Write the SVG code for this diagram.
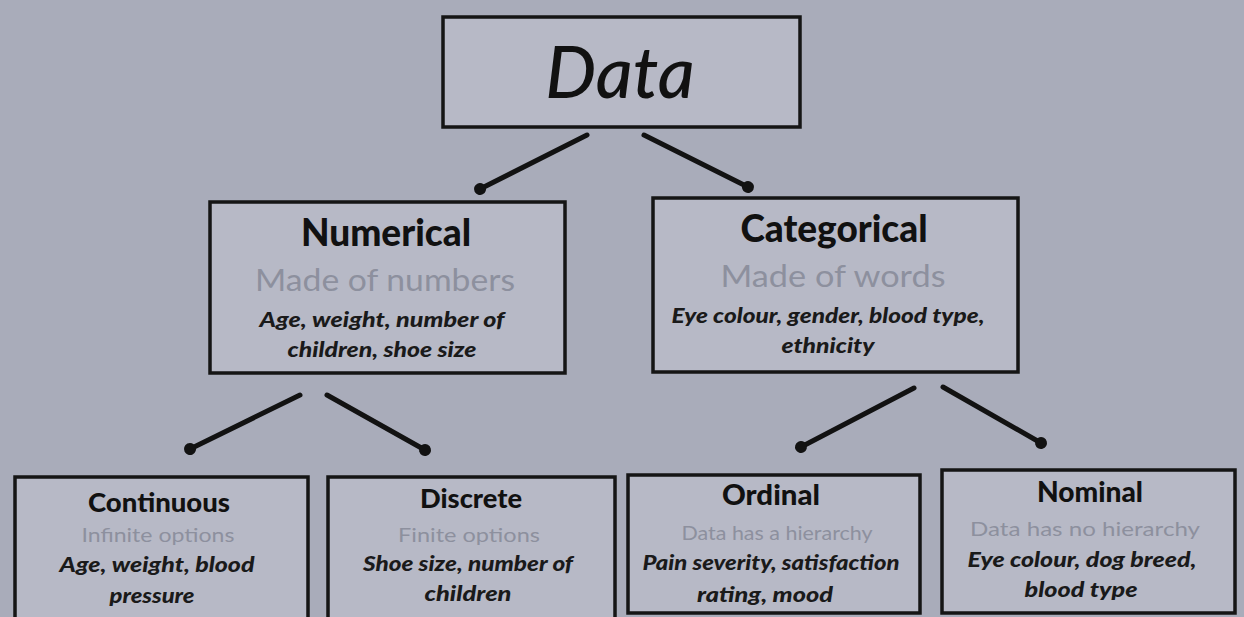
<svg xmlns="http://www.w3.org/2000/svg" width="1244" height="617" viewBox="0 0 1244 617">
<style>
.bg{fill:#a9acba}
.box{fill:#b7b9c6;stroke:#151515;stroke-width:3.5}
.title{font-family:Lato,"Noto Sans",sans-serif;font-weight:900;fill:#111;text-anchor:middle}
.sub{font-family:Lato,"Noto Sans",sans-serif;fill:#8d909e;text-anchor:middle}
.ex{font-family:Lato,"Noto Sans",sans-serif;font-weight:900;font-style:italic;fill:#1a1a1a;text-anchor:middle}
.conn{stroke:#121212;stroke-width:5;stroke-linecap:round;fill:none}
</style>
<defs>
<marker id="dot" markerWidth="4" markerHeight="4" refX="2" refY="2" markerUnits="strokeWidth" orient="auto">
<circle cx="2" cy="2" r="1.2" fill="#121212"/>
</marker>
</defs>
<rect class="bg" x="0" y="0" width="1244" height="617"/>

<g id="connectors">
<line class="conn" x1="587" y1="135" x2="480" y2="189" marker-end="url(#dot)"/>
<line class="conn" x1="644" y1="135" x2="748" y2="187" marker-end="url(#dot)"/>
<line class="conn" x1="300" y1="395" x2="190" y2="449" marker-end="url(#dot)"/>
<line class="conn" x1="327" y1="395" x2="425" y2="450" marker-end="url(#dot)"/>
<line class="conn" x1="914" y1="388" x2="801" y2="447" marker-end="url(#dot)"/>
<line class="conn" x1="943" y1="387" x2="1041" y2="443" marker-end="url(#dot)"/>
</g>

<g id="data">
<rect class="box" x="443" y="17" width="357" height="110"/>
<text x="620" y="98" font-family="Lato,'Noto Sans',sans-serif" font-style="italic" font-weight="500" font-size="72" fill="#111" text-anchor="middle">Data</text>
</g>

<g id="numerical">
<rect class="box" x="210" y="202" width="355" height="171"/>
<text class="title" x="386" y="246" font-size="37">Numerical</text>
<text class="sub" x="385" y="291" font-size="30" textLength="260" lengthAdjust="spacingAndGlyphs">Made of numbers</text>
<text class="ex" x="382" y="327" font-size="21" textLength="245" lengthAdjust="spacingAndGlyphs">Age, weight, number of</text>
<text class="ex" x="382" y="357" font-size="21" textLength="189" lengthAdjust="spacingAndGlyphs">children, shoe size</text>
</g>

<g id="categorical">
<rect class="box" x="653" y="198" width="365" height="174"/>
<text class="title" x="834" y="242" font-size="37">Categorical</text>
<text class="sub" x="833" y="287" font-size="30" textLength="225" lengthAdjust="spacingAndGlyphs">Made of words</text>
<text class="ex" x="828" y="323" font-size="21" textLength="313" lengthAdjust="spacingAndGlyphs">Eye colour, gender, blood type,</text>
<text class="ex" x="828" y="353" font-size="21" textLength="93" lengthAdjust="spacingAndGlyphs">ethnicity</text>
</g>

<g id="continuous">
<rect class="box" x="15" y="477" width="293" height="142"/>
<text class="title" x="159" y="512" font-size="27" textLength="142" lengthAdjust="spacingAndGlyphs">Continuous</text>
<text class="sub" x="158" y="542" font-size="20" textLength="153" lengthAdjust="spacingAndGlyphs">Infinite options</text>
<text class="ex" x="157" y="572" font-size="21" textLength="195" lengthAdjust="spacingAndGlyphs">Age, weight, blood</text>
<text class="ex" x="152" y="603" font-size="21" textLength="85" lengthAdjust="spacingAndGlyphs">pressure</text>
</g>

<g id="discrete">
<rect class="box" x="328" y="477" width="287" height="142"/>
<text class="title" x="471" y="508" font-size="27" textLength="102" lengthAdjust="spacingAndGlyphs">Discrete</text>
<text class="sub" x="469" y="542" font-size="20" textLength="142" lengthAdjust="spacingAndGlyphs">Finite options</text>
<text class="ex" x="468" y="571" font-size="21" textLength="210" lengthAdjust="spacingAndGlyphs">Shoe size, number of</text>
<text class="ex" x="468" y="601" font-size="21" textLength="87" lengthAdjust="spacingAndGlyphs">children</text>
</g>

<g id="ordinal">
<rect class="box" x="628" y="475" width="292" height="138"/>
<text class="title" x="771" y="505" font-size="28" textLength="98" lengthAdjust="spacingAndGlyphs">Ordinal</text>
<text class="sub" x="777" y="540" font-size="19" textLength="191" lengthAdjust="spacingAndGlyphs">Data has a hierarchy</text>
<text class="ex" x="771" y="570" font-size="21" textLength="257" lengthAdjust="spacingAndGlyphs">Pain severity, satisfaction</text>
<text class="ex" x="765" y="602" font-size="21" textLength="136" lengthAdjust="spacingAndGlyphs">rating, mood</text>
</g>

<g id="nominal">
<rect class="box" x="942" y="470" width="293" height="143"/>
<text class="title" x="1090" y="502" font-size="28" textLength="106" lengthAdjust="spacingAndGlyphs">Nominal</text>
<text class="sub" x="1085" y="536" font-size="19" textLength="230" lengthAdjust="spacingAndGlyphs">Data has no hierarchy</text>
<text class="ex" x="1082" y="567" font-size="21" textLength="229" lengthAdjust="spacingAndGlyphs">Eye colour, dog breed,</text>
<text class="ex" x="1081" y="597" font-size="21" textLength="113" lengthAdjust="spacingAndGlyphs">blood type</text>
</g>
</svg>
